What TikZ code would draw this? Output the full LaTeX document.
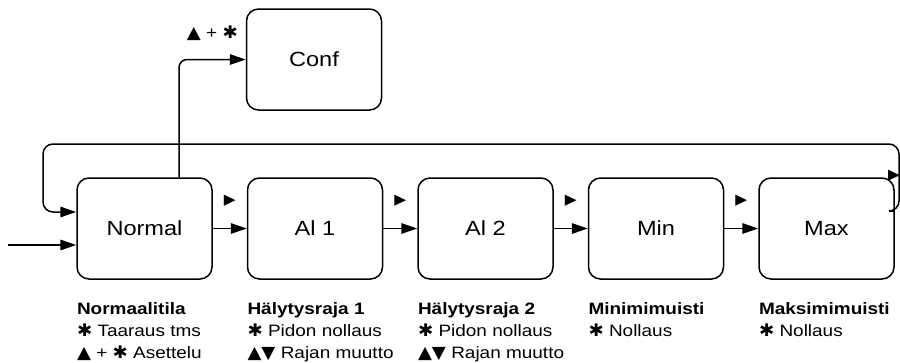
\documentclass[tikz,border=0pt]{standalone}
\usepackage{fontspec}
\setmainfont[FakeStretch=1.15]{Liberation Sans}
\newfontfamily\symfont[Scale=1.05, FakeStretch=1.05]{DejaVu Sans}
\usetikzlibrary{arrows.meta, positioning, calc}

\newcommand{\tahti}{{\symfont ✱}}
\newcommand{\ylos}{{\symfont ▲}}
\newcommand{\alas}{{\symfont ▼}}
\newcommand{\eteen}{{\symfont ▶}}

\begin{document}
\begin{tikzpicture}[x=1pt, y=-1pt, line width=1.5pt,
        tila/.style={draw, rounded corners=12pt, minimum width=135pt, minimum height=101pt,
            inner sep=0pt, font=\fontsize{20.5}{25}\selectfont},
        kuvaus/.style={anchor=base west, align=left, inner sep=0pt,
            font=\fontsize{16.5}{22}\selectfont},
        nuoli/.style={-{Triangle[length=16pt, width=10.5pt]}},
        merkki/.style={inner sep=0pt, font=\fontsize{14}{18}\selectfont}]
        \useasboundingbox (0,0) rectangle (900,362);

        % tilat
        \node[tila] (nrm) at (144.5, 228.5) {Normal};
        \node[tila, right=34pt of nrm] (al1) {Al 1};
        \node[tila, right=34pt of al1] (al2) {Al 2};
        \node[tila, right=34pt of al2] (mn) {Min};
        \node[tila, right=34pt of mn] (mx) {Max};
        \node[tila] (conf) at (314, 59.5) {Conf};

        % tilasiirtymat
        \coordinate (alku) at (8, 245);
        \draw[nuoli] (alku) -- ([yshift=-16.5pt]nrm.west);
        \draw[nuoli] (nrm) -- node[merkki, yshift=28pt] (m1) {\eteen} (al1);
        \draw[nuoli] (al1) -- node[merkki, yshift=28pt] (m2) {\eteen} (al2);
        \draw[nuoli] (al2) -- node[merkki, yshift=28pt] (m3) {\eteen} (mn);
        \draw[nuoli] (mn) -- node[merkki, yshift=28pt] (m4) {\eteen} (mx);

        % paluu alkuun
        \coordinate (oik) at (899, 144);
        \coordinate (vas) at (43, 144);
        \draw[nuoli, rounded corners=10pt] ([yshift=17.5pt]mx.east) -| (oik) -- (vas)
            |- ([yshift=16.5pt]nrm.west);
        \node[merkki] (m5) at (894, 176) {\eteen};

        % asetukset
        \draw[nuoli, rounded corners=8pt] ([xshift=34.5pt]nrm.north) |-
            node[pos=0.75, anchor=base, yshift=21pt, inner sep=0pt,
                font=\fontsize{16.5}{22}\selectfont] (mconf) {\ylos{} + \tahti} (conf.west);

        % selitteet (base = viimeisen rivin perusviiva)
        \node[kuvaus] (snrm) at ([yshift=-79pt]nrm.south west)
            {\textbf{Normaalitila}\\ \tahti{} Taaraus tms\\ \ylos{} + \tahti{} Asettelu};
        \node[kuvaus] (sal1) at ([yshift=-79pt]al1.south west)
            {\textbf{Hälytysraja 1}\\ \tahti{} Pidon nollaus\\ \ylos\alas{} Rajan muutto};
        \node[kuvaus] (sal2) at ([yshift=-79pt]al2.south west)
            {\textbf{Hälytysraja 2}\\ \tahti{} Pidon nollaus\\ \ylos\alas{} Rajan muutto};
        \node[kuvaus] (smn) at ([yshift=-57pt]mn.south west)
            {\textbf{Minimimuisti}\\ \tahti{} Nollaus};
        \node[kuvaus] (smx) at ([yshift=-57pt]mx.south west)
            {\textbf{Maksimimuisti}\\ \tahti{} Nollaus};
    \end{tikzpicture}
\end{document}
